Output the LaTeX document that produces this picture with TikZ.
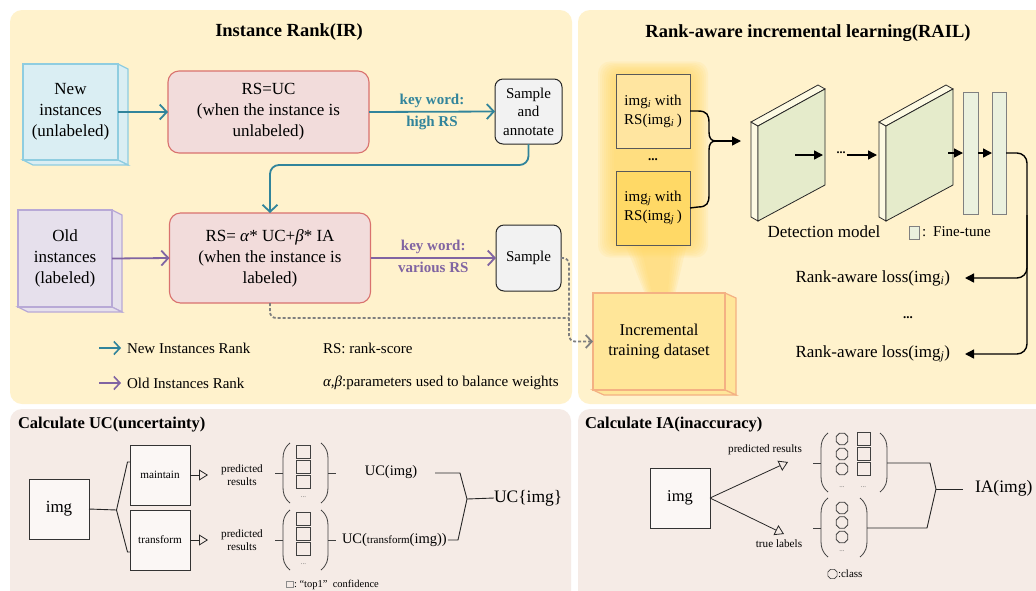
\documentclass[tikz,border=0pt]{standalone}
\usepackage{fontspec}
\setmainfont{Liberation Serif}
\newfontfamily\djv{DejaVu Sans}
\usetikzlibrary{arrows.meta,shapes.geometric,calc}
\definecolor{panelY}{HTML}{FFF2CC}
\definecolor{panelP}{HTML}{F5EBE6}
\definecolor{tealc}{HTML}{31849B}
\definecolor{purpc}{HTML}{8064A2}
\definecolor{newfill}{HTML}{DAEEF3}
\definecolor{newdraw}{HTML}{8FCDE0}
\definecolor{oldfill}{HTML}{E6E0EC}
\definecolor{olddraw}{HTML}{B8A9D6}
\definecolor{rsfill}{HTML}{F2DCDB}
\definecolor{rsdraw}{HTML}{D9726E}
\definecolor{smpfill}{HTML}{F2F2F2}
\definecolor{glowc}{HTML}{FFD966}
\definecolor{imgA}{HTML}{FFE5A0}
\definecolor{imgB}{HTML}{FFD966}
\definecolor{dsfill}{HTML}{FFE699}
\definecolor{dsdraw}{HTML}{F4B183}
\definecolor{slabF}{HTML}{E5EBCB}
\definecolor{slabC}{HTML}{FDFAE3}
\definecolor{ftfill}{HTML}{EBF1DE}
\definecolor{dashc}{HTML}{7F7F7F}
\newcommand\fsz[2]{\fontsize{#1}{#2}\selectfont}
\newcommand\mylpar[3]{\draw[parl] (#1+7,#2) .. controls (#1+1,#2+5) and (#1,#2+10) .. (#1,#2+16) -- (#1,#3-16) .. controls (#1,#3-10) and (#1+1,#3-5) .. (#1+7,#3);}
\newcommand\myrpar[3]{\draw[parl] (#1-7,#2) .. controls (#1-1,#2+5) and (#1,#2+10) .. (#1,#2+16) -- (#1,#3-16) .. controls (#1,#3-10) and (#1-1,#3-5) .. (#1-7,#3);}
\newcommand\slab[1]{%
  \filldraw[slabline, fill=slabC] (751+#1,122) -- (758+#1,126) -- (758+#1,221) -- (751+#1,217) -- cycle;
  \filldraw[slabline, fill=slabC] (751+#1,122) -- (818+#1,85) -- (825+#1,89) -- (758+#1,126) -- cycle;
  \filldraw[slabline, fill=slabF] (758+#1,126) -- (825+#1,89) -- (825+#1,185) -- (758+#1,221) -- cycle;}
\begin{document}
\begin{tikzpicture}[x=1pt,y=-1pt,
  every node/.style={inner sep=0pt, outer sep=0pt},
  ttl/.style={font=\bfseries\fsz{18.5}{22}},
  sttl/.style={font=\bfseries\fsz{16.5}{20}, anchor=west},
  cubeN/.style={draw=newdraw, fill=newfill, line width=1.2pt},
  cubeO/.style={draw=olddraw, fill=oldfill, line width=1.2pt},
  cubeD/.style={draw=dsdraw, fill=dsfill, line width=1.2pt},
  rsbox/.style={draw=rsdraw, fill=rsfill, rounded corners=11pt, line width=1.1pt, minimum width=201pt, align=center, font=\fsz{17}{21}},
  smpbox/.style={draw=black!85, fill=smpfill, rounded corners=8pt, line width=1pt, align=center, font=\fsz{15}{18.5}},
  tarr/.style={draw=tealc, line width=1.8pt, -{Straight Barb[length=7pt,width=15pt]}},
  parr/.style={draw=purpc, line width=1.8pt, -{Straight Barb[length=7pt,width=15pt]}},
  kw/.style={font=\bfseries\fsz{15}{18}},
  leg/.style={font=\fsz{15}{18}, anchor=west},
  darr/.style={draw=dashc, line width=1.8pt, dash pattern=on 3pt off 2pt, rounded corners=6pt},
  barr/.style={line width=1.4pt, -{Triangle[length=9pt,width=9pt]}},
  bline/.style={line width=1.4pt},
  slabline/.style={draw=black!85, line width=0.8pt},
  imgbox/.style={draw=black!65, line width=1pt, minimum width=74pt, minimum height=74pt, align=center, font=\fsz{15}{19}},
  ftbar/.style={draw=black!50, fill=ftfill, line width=1pt},
  bx/.style={draw=black!80, fill=white!60!panelP, line width=0.9pt, minimum width=60pt, minimum height=60pt},
  triarr/.style={line width=0.8pt, draw=black!85, -{Triangle[open,length=9pt,width=11pt]}},
  plain/.style={line width=0.9pt, draw=black!85},
  parl/.style={line width=0.8pt, draw=black!75},
  sq/.style={draw=black!75, line width=0.9pt, minimum width=14pt, minimum height=13pt},
  oct/.style={regular polygon, regular polygon sides=8, draw=black!75, line width=0.9pt, minimum size=12.5pt},
  small/.style={font=\fsz{11.2}{13.5}, align=center},
  tiny/.style={font=\fsz{7}{8}, text=black!60},
]
\useasboundingbox (0,0) rectangle (1036,590);
\clip (0,0) rectangle (1036,590);
\fill[white] (0,0) rectangle (1036,590);
% panels
\fill[panelY, rounded corners=12pt] (10,10) rectangle (572,404);
\fill[panelY, rounded corners=12pt] (578,10) rectangle (1050,404);
\fill[panelP, rounded corners=12pt] (10,409) rectangle (571,610);
\fill[panelP, rounded corners=12pt] (578,409) rectangle (1050,610);

% ================= Instance Rank =================
\node[ttl] (irt) at (289,32) {Instance Rank(IR)};
% new instances cube
\filldraw[cubeN] (118,64) -- (128,69) -- (128,165) -- (118,160) -- cycle;
\filldraw[cubeN] (23,160) -- (33,165) -- (128,165) -- (118,160) -- cycle;
\node[cubeN, minimum width=95pt, minimum height=96pt, align=center, font=\fsz{17}{21}] (newin) at (70.5,112) {New\\instances\\(unlabeled)};
% old instances cube
\filldraw[cubeO] (112,210) -- (122,215) -- (122,312) -- (112,307) -- cycle;
\filldraw[cubeO] (18,307) -- (28,312) -- (122,312) -- (112,307) -- cycle;
\node[cubeO, minimum width=94pt, minimum height=97pt, align=center, font=\fsz{17}{21}] (oldin) at (65,258.5) {Old\\instances\\(labeled)};
% RS boxes
\node[rsbox, minimum height=82pt] (rsuc) at (268.5,112) {RS=UC\\(when the instance is\\unlabeled)};
\node[rsbox, minimum height=90pt] (rsab) at (270,258) {RS= \textit{α}* UC+\textit{β}* IA\\(when the instance is\\labeled)};
% sample boxes
\node[smpbox, minimum width=67pt, minimum height=65pt] (sa) at (528.5,111.5) {Sample\\and\\annotate};
\node[smpbox, minimum width=65pt, minimum height=66pt] (sm) at (528.5,258) {Sample};
% arrows
\draw[tarr] (newin.east) -- (rsuc.west);
\draw[tarr] (rsuc.east) -- node[above=4pt, kw, text=tealc] {key word:} node[below=4pt, kw, text=tealc] {high RS} (sa.west);
\draw[tarr, rounded corners=9pt] (sa.south) -- ++(0,21) -| (rsab.north);
\draw[parr] (oldin.east) -- (rsab.west);
\draw[parr] (rsab.east) -- node[above=4pt, kw, text=purpc] {key word:} node[below=4pt, kw, text=purpc] {various RS} (sm.west);
% legend
\coordinate (lg1a) at (99,348); \coordinate (lg1b) at (121,348);
\coordinate (lg2a) at (99,383); \coordinate (lg2b) at (121,383);
\draw[tarr, line width=1.6pt, -{Straight Barb[length=6pt,width=13pt]}] (lg1a) -- (lg1b);
\draw[parr, line width=1.6pt, -{Straight Barb[length=6pt,width=13pt]}] (lg2a) -- (lg2b);
\node[leg] (lgt1) at (127,348) {New Instances Rank};
\node[leg] (lgt2) at (127,383) {Old Instances Rank};
\node[leg] (lgt3) at (323,348) {RS: rank-score};
\node[leg] (lgt4) at (323,383) {\textit{α,β}:parameters used to balance weights};

% ================= RAIL =================
\node[ttl] (railt) at (808,33) {Rank-aware incremental learning(RAIL)};
% glow
\foreach \k in {1,...,9}{
  \fill[glowc, opacity=0.13, rounded corners=12pt] (616-2*\k,74-1.4*\k) rectangle (690+2*\k,245+1.4*\k);
}
\foreach \k in {0,...,5}{
  \fill[glowc, opacity=0.16] (640-3*\k,244) -- (672+3*\k,244) -- (668+1.5*\k,293) -- (652-1.5*\k,293) -- cycle;
}
% dataset cube
\filldraw[cubeD] (725,293) -- (736,298) -- (736,395) -- (725,390) -- cycle;
\filldraw[cubeD] (593,390) -- (604,395) -- (736,395) -- (725,390) -- cycle;
\node[cubeD, minimum width=132pt, minimum height=97pt, align=center, font=\fsz{16.5}{20}] (itd) at (659,341.5) {Incremental\\training dataset};
% img boxes
\node[imgbox, fill=imgA] (ii) at (653,111) {img\textsubscript{\textit{i}} with\\RS(img\textsubscript{\textit{i}}\,)};
\node[font=\bfseries\fsz{13}{15}] (idots) at (653,160) {...};
\node[imgbox, fill=imgB] (ij) at (653,208) {img\textsubscript{\textit{j}} with\\RS(img\textsubscript{\textit{j}}\,)};
% dashed sample path
\coordinate (dj) at (569,318);
\draw[darr] (sm.east) -| (dj);
\draw[darr] (rsab.south) |- (dj);
\draw[darr, -{Straight Barb[length=6pt,width=13pt]}] (dj) |- (itd.west);
% brace
\coordinate (bj) at (716,141);
\coordinate (s1in) at (741,141);
\draw[bline] (ii.east) -- (698,111) .. controls (707,111) and (709,115) .. (709,123) -- (709,132) .. controls (709,138) and (711,141) .. (bj);
\draw[bline] (ij.east) -- (698,207) .. controls (707,207) and (709,203) .. (709,195) -- (709,150) .. controls (709,144) and (711,141) .. (bj);
\draw[barr] (bj) -- (s1in);
% slabs
\slab{0}
\slab{128}
\coordinate (a1s) at (795,155); \coordinate (a1e) at (823,155);
\draw[barr] (a1s) -- (a1e);
\node[font=\bfseries\fsz{12}{14}] (dots1) at (841,153) {...};
\coordinate (a2e) at (877,155);
\draw[barr] (dots1.east) ++(1,2) -- (a2e);
% fine-tune bars
\node[ftbar, minimum width=15pt, minimum height=122pt] (ft1) at (970.5,153) {};
\node[ftbar, minimum width=14pt, minimum height=122pt] (ft2) at (999,153) {};
\coordinate (a3s) at (948,153);
\draw[barr] (a3s) -- (ft1.west);
\draw[barr] (ft1.east) -- (ft2.west);
\node[font=\fsz{17}{20}] (detm) at (824,232) {Detection model};
\node[ftbar, minimum width=10pt, minimum height=13pt] (ftl) at (914,232.5) {};
\node[font=\fsz{15}{18}, anchor=west] (ftt) at (922,232) {:\hspace{7pt}Fine-tune};
% losses
\node[font=\fsz{17}{20}, anchor=east] (loss1) at (950,278) {Rank-aware loss(img\textsubscript{\textit{i}})};
\node[font=\bfseries\fsz{13}{15}] (ldots) at (908,318) {...};
\node[font=\fsz{17}{20}, anchor=east] (loss2) at (950,354) {Rank-aware loss(img\textsubscript{\textit{j}})};
\coordinate (vr) at (1027,215);
\coordinate (l1tip) at ($(loss1.east)+(15,0)$);
\coordinate (l2tip) at ($(loss2.east)+(15,0)$);
\draw[barr, rounded corners=10pt] (ft2.east) -| (vr) |- (l1tip);
\draw[barr, rounded corners=10pt] (vr) |- (l2tip);

% ================= UC =================
\node[sttl] (uct) at (18,425) {Calculate UC(uncertainty)};
\node[bx, font=\fsz{17}{20}] (uimg) at (59,509) {img};
\node[bx, font=\fsz{11.2}{13}] (umt) at (160,475) {maintain};
\node[bx, font=\fsz{11.2}{13}] (utf) at (160,540) {transform};
\coordinate (uf) at (116.5,510);
\coordinate (uf1) at (127.5,462);
\coordinate (uf2) at (127.5,552);
\draw[plain] (uimg.east) -- (uf);
\draw[plain] (uf) -- (uf1) -- (umt.west |- uf1);
\draw[plain] (uf) -- (uf2) -- (utf.west |- uf2);
\coordinate (ut1) at (208,475); \coordinate (ut2) at (208,540);
\draw[triarr] (umt.east) -- (ut1);
\draw[triarr] (utf.east) -- (ut2);
\node[small] (pr1) at (242,475) {predicted\\results};
\node[small] (pr2) at (242,540) {predicted\\results};
% upper group
\mylpar{283}{443}{503}
\myrpar{328}{443}{503}
\draw[parl] (275,473) -- (283,473);
\draw[parl] (328,473) -- (336,473);
\node[sq] (us1) at (303.5,451.5) {};
\node[sq] (us2) at (303.5,466.5) {};
\node[sq] (us3) at (303.5,481.5) {};
\node[tiny] (usd) at (303.5,497) {...};
% lower group
\mylpar{283}{510}{570}
\myrpar{328}{510}{570}
\draw[parl] (275,540) -- (283,540);
\draw[parl] (328,540) -- (336,540);
\node[sq] (ls1) at (303.5,518.5) {};
\node[sq] (ls2) at (303.5,533.5) {};
\node[sq] (ls3) at (303.5,548.5) {};
\node[tiny] (lsd) at (303.5,564) {...};
\node[font=\fsz{14.5}{17}] (ucimg) at (391,472) {UC(img)};
\node[font=\fsz{14.5}{17}, anchor=west] (uctr) at (342,540) {UC({\fsz{11}{13}transform}(img))};
\coordinate (ua) at (435,473); \coordinate (ub) at (460,473);
\coordinate (uj) at (467,499);
\coordinate (uc) at (458,540);
\draw[plain] (ua) -- (ub) -- (uj);
\draw[plain] (uctr.east) ++(1,0) -- (uc) -- (uj);
\node[font=\fsz{17.5}{20}, anchor=west] (ucset) at (494,498) {UC\{img\}};
\draw[plain] (uj) -- (ucset.west);
\node[draw=black!45, line width=0.6pt, minimum size=6.5pt] (lsq) at (290,584.5) {};
\node[font=\fsz{10.5}{12}, anchor=west] (lsqt) at (294,585) {:\ “top1”\ \ confidence};

% ================= IA =================
\node[sttl] (iat) at (585,425) {Calculate IA(inaccuracy)};
\node[bx, font=\fsz{16.5}{20}] (aimg) at (680,498) {img};
\coordinate (ap) at (788,462); \coordinate (at) at (784,534);
\draw[triarr] (aimg.east) -- (ap);
\draw[triarr] (aimg.east) -- (at);
\node[small] (apr) at (765,450) {predicted results};
\node[small] (atl) at (779,544) {true labels};
% upper group
\mylpar{821}{433}{492}
\myrpar{887}{433}{492}
\draw[parl] (813,463) -- (821,463);
\foreach \r/\yy in {1/439,2/454,3/469}{
  \node[oct] (ac\r) at (842,\yy) {};
  \node[sq, minimum width=13pt, minimum height=13pt] (aq\r) at (863.5,\yy) {};
}
\node[tiny] (acd) at (842,487) {...};
\node[tiny] (aqd) at (863.5,487) {...};
% lower group
\mylpar{821}{498}{557}
\myrpar{867}{498}{557}
\draw[parl] (813,528) -- (821,528);
\foreach \r/\yy in {1/508,2/522.5,3/537}{
  \node[oct] (bc\r) at (842,\yy) {};
}
\node[tiny] (bcd) at (842,551) {...};
\coordinate (ia1) at (887,463); \coordinate (ia2) at (930,463);
\coordinate (iaj) at (936,489);
\coordinate (ib1) at (867,528); \coordinate (ib2) at (927,528);
\draw[plain] (ia1) -- (ia2) -- (iaj);
\draw[plain] (ib1) -- (ib2) -- (iaj);
\node[font=\fsz{17.5}{20}, anchor=west] (iaimg) at (975,488) {IA(img)};
\coordinate (iak) at (963,489);
\draw[plain] (iaj) -- (iak);
\node[oct, minimum size=10pt, line width=0.7pt] (loct) at (832.5,574) {};
\node[font=\fsz{11}{13}, anchor=west] (loctt) at (838,574) {:class};
\end{tikzpicture}
\end{document}
